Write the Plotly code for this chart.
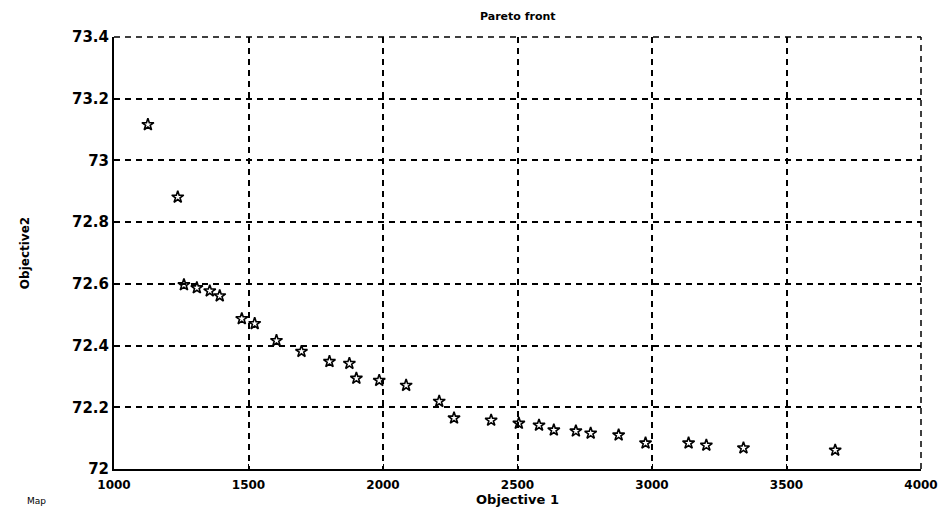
import plotly.graph_objects as go

# Pareto front samples: objective 1 vs objective 2
objective_1 = [1126, 1237, 1260, 1308, 1356, 1393, 1475, 1523, 1604, 1697,
               1801, 1875, 1901, 1986, 2086, 2209, 2264, 2402, 2505, 2580,
               2635, 2717, 2772, 2876, 2976, 3136, 3202, 3340, 3681]
objective_2 = [73.116, 72.881, 72.597, 72.587, 72.577, 72.561, 72.487, 72.471,
               72.416, 72.381, 72.348, 72.342, 72.294, 72.287, 72.271, 72.219,
               72.165, 72.158, 72.148, 72.142, 72.126, 72.123, 72.116, 72.110,
               72.084, 72.084, 72.077, 72.068, 72.061]

x_ticks = [1000, 1500, 2000, 2500, 3000, 3500, 4000]
y_ticks = [72, 72.2, 72.4, 72.6, 72.8, 73, 73.2, 73.4]
y_tick_text = ["72", "72.2", "72.4", "72.6", "72.8", "73", "73.2", "73.4"]

fig = go.Figure()
fig.add_trace(go.Scatter(
    x=objective_1, y=objective_2, mode="markers",
    marker=dict(symbol="star-open", size=9, color="black",
                line=dict(color="black", width=1.6)),
    showlegend=False,
))

grid_style = dict(showgrid=True, gridcolor="black", gridwidth=1.5,
                  griddash="6px,5px", showline=True, linecolor="black",
                  linewidth=2, ticks="inside", ticklen=5, tickcolor="black",
                  zeroline=False, mirror=False)

fig.update_xaxes(range=[1000, 4000], tickvals=x_ticks, ticklabelstandoff=4,
                 tickfont=dict(family="DejaVu Sans", size=12, color="black",
                               weight="bold"),
                 title=dict(text="<b>Objective 1</b>", standoff=2,
                            font=dict(family="DejaVu Sans", size=13,
                                      color="black")),
                 **grid_style)
fig.update_yaxes(range=[72, 73.4], tickvals=y_ticks, ticktext=y_tick_text,
                 tickfont=dict(family="DejaVu Sans", size=15, color="black",
                               weight="bold"),
                 title=dict(text="<b>Objective2</b>", standoff=40,
                            font=dict(family="DejaVu Sans", size=12,
                                      color="black")),
                 **grid_style)

# dashed frame along the top and right edges of the plotting area
frame = dict(color="black", width=1.5, dash="6px,5px")
fig.add_shape(type="line", xref="paper", yref="paper", x0=0, x1=1, y0=1, y1=1,
              line=frame, layer="below")
fig.add_shape(type="line", xref="paper", yref="paper", x0=1, x1=1, y0=0, y1=1,
              line=frame, layer="below")

fig.update_layout(
    width=950, height=516,
    margin=dict(l=114, r=27, t=37, b=45),
    paper_bgcolor="white", plot_bgcolor="white",
    title=dict(text="<b>Pareto front</b>", x=0.545, xanchor="center",
               y=0.968, yanchor="middle",
               font=dict(family="DejaVu Sans", size=11, color="black")),
)
fig.add_annotation(text="Map", xref="paper", yref="paper", x=-0.11, y=-0.075,
                   xanchor="left", yanchor="middle", showarrow=False,
                   font=dict(family="DejaVu Sans", size=9, color="black"))

fig.write_html("out.html")
